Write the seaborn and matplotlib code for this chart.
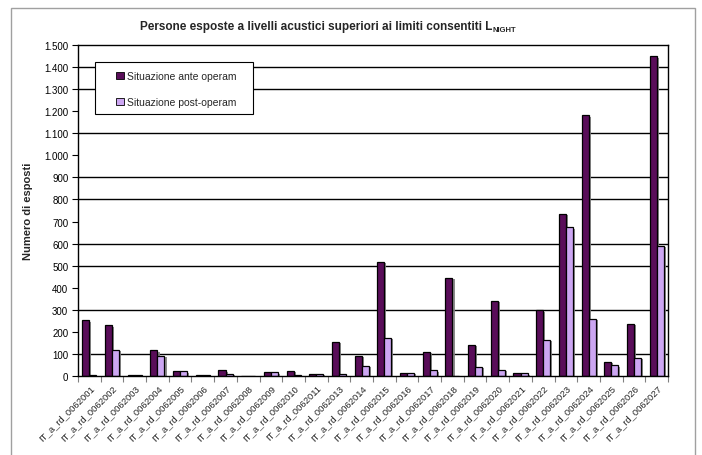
import matplotlib
matplotlib.use("Agg")
import matplotlib.pyplot as plt
import matplotlib.patches as mpatches
import matplotlib.patheffects as pe
from matplotlib.ticker import FixedLocator, FuncFormatter
import seaborn as sns
import pandas as pd

categories = ["IT_a_rd_0062001", "IT_a_rd_0062002", "IT_a_rd_0062003", "IT_a_rd_0062004",
              "IT_a_rd_0062005", "IT_a_rd_0062006", "IT_a_rd_0062007", "IT_a_rd_0062008",
              "IT_a_rd_0062009", "IT_a_rd_0062010", "IT_a_rd_0062011", "IT_a_rd_0062013",
              "IT_a_rd_0062014", "IT_a_rd_0062015", "IT_a_rd_0062016", "IT_a_rd_0062017",
              "IT_a_rd_0062018", "IT_a_rd_0062019", "IT_a_rd_0062020", "IT_a_rd_0062021",
              "IT_a_rd_0062022", "IT_a_rd_0062023", "IT_a_rd_0062024", "IT_a_rd_0062025",
              "IT_a_rd_0062026", "IT_a_rd_0062027"]
ante_operam = [253, 230, 3, 116, 21, 3, 25, 0, 16, 23, 10, 155,
               92, 518, 14, 109, 445, 141, 341, 12, 298, 735, 1182, 64, 236, 1448]
post_operam = [4, 118, 3, 91, 21, 3, 10, 0, 16, 3, 10, 8,
               47, 174, 14, 25, 0, 41, 27, 12, 164, 673, 259, 48, 82, 591]
series_names = ["Situazione ante operam", "Situazione post-operam"]
colors = ["#660066", "#CC99FF"]
y_ticks = list(range(0, 1501, 100))
grid_values = [100, 300, 500, 600, 800, 900, 1100, 1300, 1400]

df = pd.DataFrame({
    "categoria": categories * 2,
    "valore": ante_operam + post_operam,
    "serie": [series_names[0]] * len(categories) + [series_names[1]] * len(categories),
})

sns.set_theme(style="white")
plt.rcParams["font.family"] = ["Liberation Sans", "DejaVu Sans"]

W, H = 702, 456
fig = plt.figure(figsize=(W / 100, H / 100), dpi=100)
ax = fig.add_axes([78 / W, 1 - 377 / H, (668 - 78) / W, (377 - 46) / H])

# outer chart border
fig.patches.append(mpatches.Rectangle((11 / W, -0.05), (695 - 11) / W, 1.05 - 9 / H,
                                      transform=fig.transFigure, fill=False,
                                      edgecolor="#a0a0a0", linewidth=1.0))

for g in grid_values:
    ax.axhline(g, color="black", linewidth=1.0, zorder=0)

sns.barplot(data=df, x="categoria", y="valore", hue="serie", order=categories,
            hue_order=series_names, palette=colors, width=0.62, gap=0,
            edgecolor="black", linewidth=0.9, ax=ax, zorder=2)

shadow = [pe.SimplePatchShadow(offset=(1.5, -1.0), shadow_rgbFace="#808080", alpha=0.9), pe.Normal()]
for p in ax.patches:
    p.set_path_effects(shadow)

ax.set_ylim(0, 1500)
ax.set_xlim(-0.5, len(categories) - 0.5)
ax.yaxis.set_major_locator(FixedLocator(y_ticks))
ax.yaxis.set_major_formatter(FuncFormatter(lambda v, _: f"{int(v):,}".replace(",", ".")))
ax.tick_params(axis="y", which="major", direction="out", length=4, width=0.8,
               labelsize=7, colors="black", left=True, pad=3)

# x ticks: labels at centers, tick marks at boundaries
ax.set_xticks(range(len(categories)))
ax.set_xticklabels(categories, rotation=45, ha="right", rotation_mode="anchor", fontsize=6.8)
ax.tick_params(axis="x", which="major", length=0, pad=5)
ax.set_xticks([i - 0.5 for i in range(len(categories) + 1)], minor=True)
ax.tick_params(axis="x", which="minor", direction="out", length=4, width=0.8,
               color="#808080", bottom=True)

for s in ax.spines.values():
    s.set_visible(True)
    s.set_color("black")
    s.set_linewidth(1.0)

ax.set_xlabel("")
ax.set_ylabel("Numero di esposti", fontsize=8, fontweight="bold")
ax.yaxis.set_label_coords((33 - 78) / (668 - 78), 0.5)

# legend box (white panel with black border) and legend entries
legend_box = mpatches.Rectangle((95 / W, 1 - 115 / H), (253 - 95) / W, (115 - 63) / H,
                                transform=fig.transFigure, facecolor="white",
                                edgecolor="black", linewidth=0.8, zorder=4, clip_on=False)
ax.add_patch(legend_box)
leg = ax.legend(loc="upper left", bbox_to_anchor=(116 / W, 1 - 72 / H),
                bbox_transform=fig.transFigure, fontsize=7.5, frameon=False,
                borderpad=0, labelspacing=1.55,
                handlelength=0.75, handleheight=0.75, handletextpad=0.3,
                borderaxespad=0)
leg.set_zorder(5)
for h in leg.legend_handles:
    h.set_edgecolor("black")
    h.set_linewidth(0.6)
    h.set_path_effects([])

title_font = ["Liberation Sans Narrow", "Liberation Sans", "DejaVu Sans"]
t = fig.text(140 / W, 1 - 27 / H, "Persone esposte a livelli acustici superiori ai limiti consentiti L",
             fontsize=8.5, fontweight="bold", family=title_font, ha="left", va="center")
fig.canvas.draw()
bb = t.get_window_extent()
fig.text((bb.x1 + 0.5) / W, (bb.y0 - 1) / H, "NIGHT", fontsize=5.5, fontweight="bold",
         family=title_font, ha="left", va="bottom")

fig.savefig("out.png", dpi=100)
